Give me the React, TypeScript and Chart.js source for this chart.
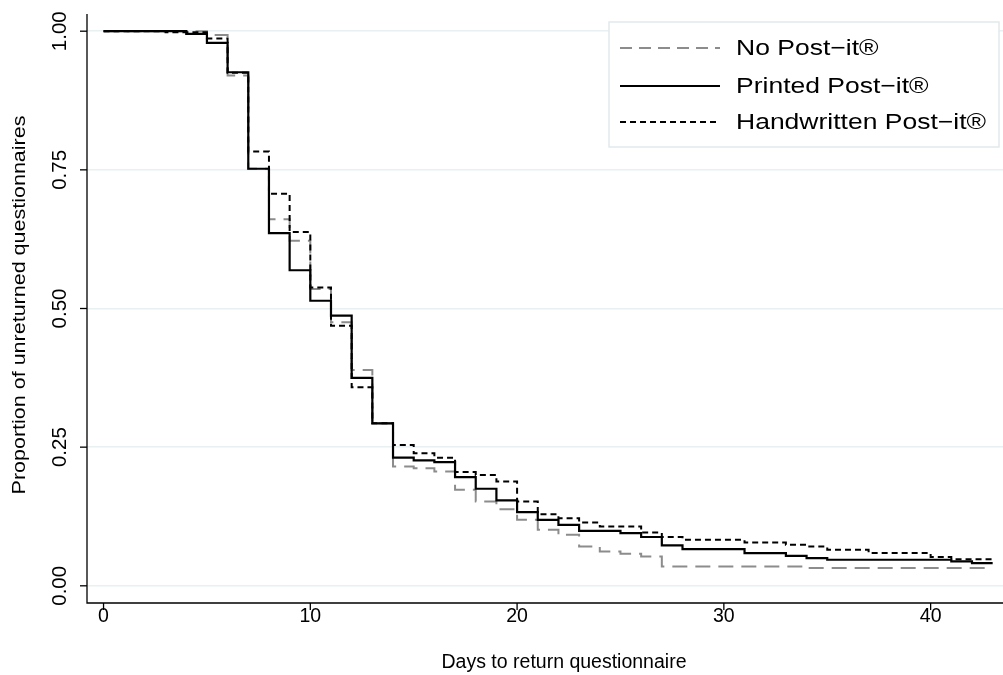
import React, { useEffect, useRef } from "react";
import { Chart, registerables } from "chart.js";

Chart.register(...registerables);

// No Post-it
const noDays = [0, 5, 6, 7, 8, 9, 10, 11, 12, 13, 14, 15, 16, 17, 18, 19, 20, 21, 22, 23, 24, 25, 26, 27, 34, 42.7];
const noVals = [1, 0.993, 0.92, 0.752, 0.661, 0.622, 0.535, 0.475, 0.389, 0.293, 0.215, 0.212, 0.206, 0.173, 0.152, 0.138, 0.119, 0.101, 0.092, 0.071, 0.062, 0.058, 0.053, 0.035, 0.032, 0.032];

// Printed Post-it
const prDays = [0, 4, 5, 6, 7, 8, 9, 10, 11, 12, 13, 14, 15, 16, 17, 18, 19, 20, 21, 22, 23, 25, 26, 27, 28, 31, 33, 34, 35, 41, 42, 43];
const prVals = [1, 0.995, 0.979, 0.926, 0.752, 0.636, 0.569, 0.514, 0.487, 0.375, 0.293, 0.231, 0.226, 0.223, 0.196, 0.175, 0.154, 0.133, 0.119, 0.11, 0.099, 0.095, 0.088, 0.073, 0.066, 0.059, 0.054, 0.05, 0.047, 0.044, 0.041, 0.041];

// Handwritten Post-it
const hwDays = [0, 3, 5, 6, 7, 8, 9, 10, 11, 12, 13, 14, 15, 16, 17, 18, 19, 20, 21, 22, 23, 24, 26, 27, 28, 31, 33, 34, 35, 37, 40, 41, 43];
const hwVals = [1, 0.998, 0.987, 0.925, 0.783, 0.707, 0.638, 0.538, 0.469, 0.358, 0.293, 0.254, 0.239, 0.231, 0.205, 0.2, 0.188, 0.152, 0.129, 0.122, 0.114, 0.107, 0.096, 0.088, 0.083, 0.078, 0.074, 0.071, 0.065, 0.059, 0.052, 0.048, 0.048];

const seriesNames = ["No Post\u2212it\u00ae", "Printed Post\u2212it\u00ae", "Handwritten Post\u2212it\u00ae"];
const xTicks = [0, 10, 20, 30, 40];
const yTicks = [0, 0.25, 0.5, 0.75, 1];
const yTickLabels = ["0.00", "0.25", "0.50", "0.75", "1.00"];
const xTitle = "Days to return questionnaire";
const yTitle = "Proportion of unreturned questionnaires";

const FONT = "'Liberation Sans', Arial, sans-serif";

const toPts = (d: number[], v: number[]) => d.map((x, i) => ({ x, y: v[i] }));

export default function App() {
  const ref = useRef<HTMLCanvasElement>(null);
  useEffect(() => {
    if (!ref.current) return;
    const styles = [
      { color: "#8c8c8c", dash: [15, 8], width: 2 },
      { color: "#000000", dash: [] as number[], width: 2.2 },
      { color: "#000000", dash: [6, 4], width: 2 },
    ];
    const custom = {
      id: "custom",
      afterDraw(chart: any) {
        const ctx = chart.ctx;
        const ys = chart.scales.y;
        const xs = chart.scales.x;
        const area = chart.chartArea;
        ctx.save();
        // axis spines
        ctx.strokeStyle = "#000";
        ctx.lineWidth = 1.3;
        ctx.beginPath();
        ctx.moveTo(area.left, area.top);
        ctx.lineTo(area.left, area.bottom);
        ctx.lineTo(area.right, area.bottom);
        ctx.stroke();
        // y ticks and rotated labels
        ctx.fillStyle = "#000";
        ctx.font = `20.5px ${FONT}`;
        yTicks.forEach((t, i) => {
          const py = ys.getPixelForValue(t);
          ctx.beginPath();
          ctx.moveTo(area.left - 7, py);
          ctx.lineTo(area.left, py);
          ctx.stroke();
          ctx.save();
          ctx.translate(area.left - 21, py);
          ctx.rotate(-Math.PI / 2);
          ctx.textAlign = "center";
          ctx.textBaseline = "alphabetic";
          ctx.fillText(yTickLabels[i], 0, 0);
          ctx.restore();
        });
        // y title
        ctx.save();
        ctx.font = `21.5px ${FONT}`;
        ctx.translate(25, 305);
        ctx.rotate(-Math.PI / 2);
        ctx.scale(1, 0.85);
        ctx.textAlign = "center";
        ctx.textBaseline = "alphabetic";
        ctx.fillText(yTitle, 0, 0);
        ctx.restore();
        // x title
        ctx.font = `19.5px ${FONT}`;
        ctx.textAlign = "center";
        ctx.textBaseline = "middle";
        ctx.fillText(xTitle, 564, 663);
        // x ticks
        xTicks.forEach((t) => {
          const px = xs.getPixelForValue(t);
          ctx.beginPath();
          ctx.moveTo(px, area.bottom);
          ctx.lineTo(px, area.bottom + 7);
          ctx.stroke();
        });
        // legend
        const lx = 609, ly = 22, lw = 390, lh = 125;
        ctx.fillStyle = "#fff";
        ctx.fillRect(lx, ly, lw, lh);
        ctx.strokeStyle = "#e2eaec";
        ctx.lineWidth = 1.5;
        ctx.strokeRect(lx, ly, lw, lh);
        ctx.font = `26.5px ${FONT}`;
        ctx.textAlign = "left";
        ctx.textBaseline = "middle";
        const rows = [48, 86, 122];
        seriesNames.forEach((name, i) => {
          const s = styles[i];
          ctx.strokeStyle = s.color;
          ctx.lineWidth = s.width;
          ctx.setLineDash(i === 0 ? [12, 7] : i === 2 ? [6, 4] : []);
          ctx.beginPath();
          ctx.moveTo(620, rows[i]);
          ctx.lineTo(720, rows[i]);
          ctx.stroke();
          ctx.setLineDash([]);
          ctx.fillStyle = "#000";
          ctx.save();
          ctx.translate(736, rows[i] + 1);
          ctx.scale(1, 0.85);
          ctx.fillText(name, 0, 0);
          ctx.restore();
        });
        ctx.restore();
      },
    };
    const chart = new Chart(ref.current, {
      type: "line",
      data: {
        datasets: [
          { label: seriesNames[0], data: toPts(noDays, noVals) },
          { label: seriesNames[1], data: toPts(prDays, prVals) },
          { label: seriesNames[2], data: toPts(hwDays, hwVals) },
        ].map((d, i) => ({
          ...d,
          borderColor: styles[i].color,
          borderDash: styles[i].dash,
          borderWidth: styles[i].width,
          pointRadius: 0,
          stepped: "before" as const,
          fill: false,
          order: i === 1 ? 0 : i === 2 ? 1 : 2,
        })),
      },
      plugins: [custom],
      options: {
        animation: false,
        responsive: false,
        layout: { padding: { top: 14, right: 0, left: 0, bottom: 0 } },
        plugins: { legend: { display: false }, tooltip: { enabled: false } },
        scales: {
          x: {
            type: "linear",
            min: -0.8,
            max: 43.5,
            afterBuildTicks: (s: any) => {
              s.ticks = xTicks.map((v) => ({ value: v }));
            },
            afterFit: (s: any) => {
              s.height = 72;
            },
            grid: { display: false, drawTicks: false },
            border: { display: false },
            ticks: {
              color: "#000",
              font: { family: FONT, size: 19.5 },
              padding: 2,
              maxRotation: 0,
            },
            title: { display: false },
          },
          y: {
            type: "linear",
            min: -0.031,
            max: 1.031,
            afterBuildTicks: (s: any) => {
              s.ticks = yTicks.map((v) => ({ value: v }));
            },
            afterFit: (s: any) => {
              s.width = 87;
            },
            grid: { color: "#e8f0f2", lineWidth: 1.5, drawTicks: false },
            border: { display: false },
            ticks: { display: false },
            title: { display: false },
          },
        },
      },
    });
    return () => chart.destroy();
  }, []);
  return (
    <div style={{ position: "fixed", left: 0, top: 0, width: 1003, height: 675, background: "#fff" }}>
      <canvas ref={ref} width={1003} height={675} style={{ width: 1003, height: 675, display: "block" }} />
    </div>
  );
}
